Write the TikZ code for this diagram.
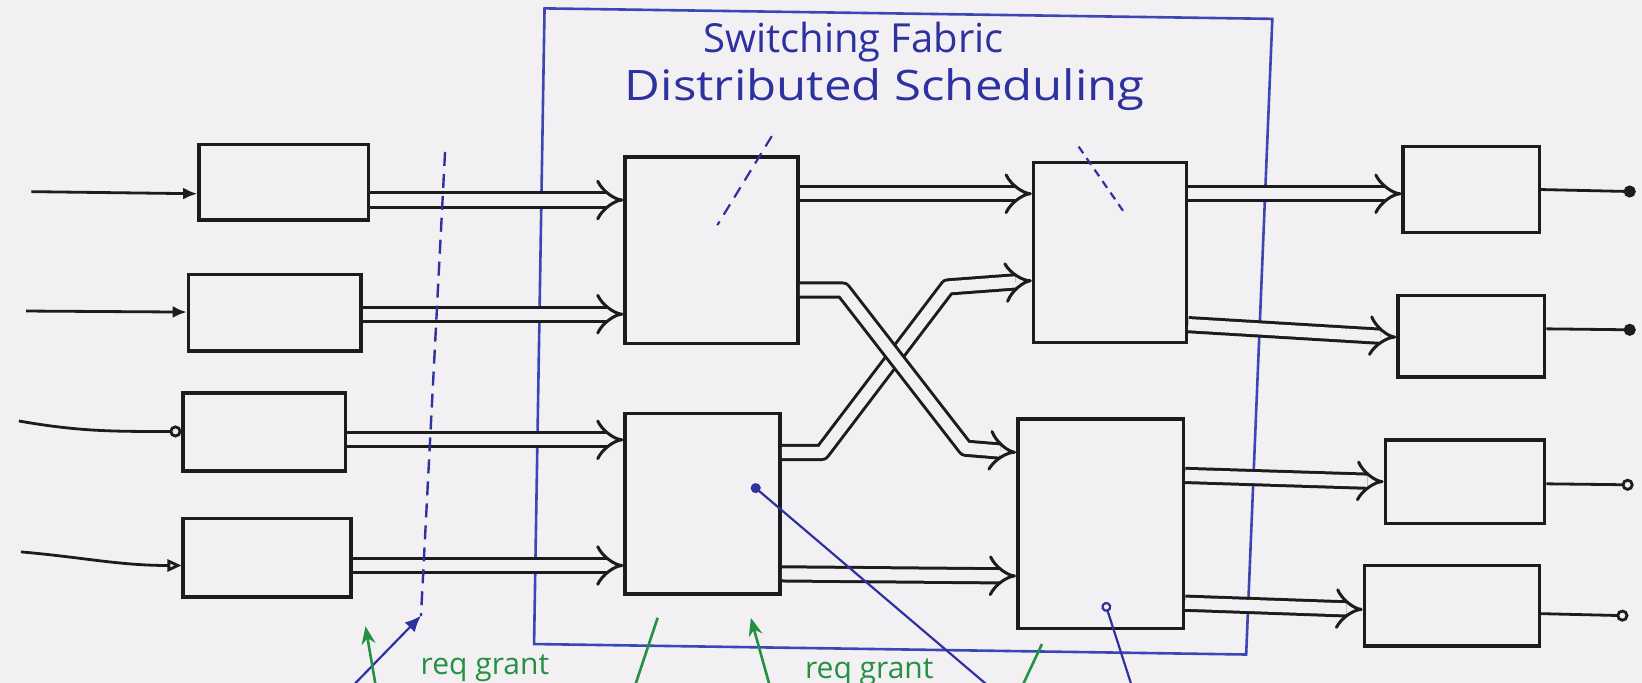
\documentclass[tikz,border=0pt]{standalone}
\usepackage{fontspec}
\setmainfont{Open Sans}
\usetikzlibrary{arrows.meta,fit,calc}
\definecolor{paper}{RGB}{243,240,243}
\definecolor{ink}{RGB}{28,28,28}
\definecolor{pen}{RGB}{45,50,160}
\definecolor{frame}{RGB}{60,70,180}
\definecolor{marker}{RGB}{35,145,65}
\def\pxu{0.5236pt}
\begin{document}
\begin{tikzpicture}[x=\pxu,y=-\pxu,
  blk/.style={draw=ink, line width=1.8pt, inner sep=0pt},
  feed/.style={draw=ink, line width=1.4pt},
  dbl/.style={draw=ink, line width=1.5pt, double=paper, double distance=5.6pt,
    line join=round, -{Implies}},
  fabric/.style={draw=frame, line width=1.3pt},
  note/.style={text=pen, font=\fontsize{20}{22}\selectfont},
  pointer/.style={draw=pen, line width=1.1pt, dash pattern=on 6pt off 4pt},
  probe/.style={draw=pen, line width=1.1pt},
  cue/.style={draw=marker, line width=1.3pt},
  cuetext/.style={text=marker, font=\fontsize{15}{17}\selectfont, anchor=north west}
]
\useasboundingbox (0,0) rectangle (1568,652);
\fill[paper] (0,0) rectangle (1568,652);
\clip (0,0) rectangle (1568,652);

% switching fabric frame
\draw[fabric] (520,8) -- (1215,18) -- (1190,625) -- (510,615) -- cycle;
\node[note] (t1) at (815,40) {Switching Fabric};
\node[note, font=\fontsize{21}{23}\selectfont, xscale=1.17] (t2) at (845,86) {Distributed Scheduling};

% input buffers
\node[blk, fit={(190,138) (352,210)}] (I1) {};
\node[blk, fit={(180,262) (345,335)}] (I2) {};
\node[blk, fit={(175,375) (330,450)}] (I3) {};
\node[blk, fit={(175,495) (335,570)}] (I4) {};
% switch elements
\node[blk, fit={(597,150) (762,328)}] (S1) {};
\node[blk, fit={(597,395) (745,567)}] (S2) {};
\node[blk, fit={(987,155) (1133,327)}] (S3) {};
\node[blk, fit={(972,400) (1130,600)}] (S4) {};
% output buffers
\node[blk, fit={(1340,140) (1470,222)}] (O1) {};
\node[blk, fit={(1335,282) (1475,360)}] (O2) {};
\node[blk, fit={(1323,420) (1475,500)}] (O3) {};
\node[blk, fit={(1303,540) (1470,617)}] (O4) {};

% incoming lines
\coordinate (in1) at (30,183);
\coordinate (in2) at (25,297);
\coordinate (in3) at (18,402);
\coordinate (in4) at (20,527);
\draw[feed, -{Latex[length=7pt,width=6pt]}] (in1) -- (I1.west |- 0,185);
\draw[feed, -{Latex[length=7pt,width=6pt]}] (in2) -- (I2.west |- 0,298);
\draw[feed, -{Circle[open,length=6pt]}] (in3) to[out=-10,in=180] (I3.west |- 0,412);
\draw[feed, -{Triangle[open,length=7pt,width=6pt]}] (in4) to[out=-5,in=180] (I4.west |- 0,540);

% outgoing lines
\coordinate (out1) at (1562,183);
\coordinate (out2) at (1562,315);
\coordinate (out3) at (1560,463);
\coordinate (out4) at (1555,588);
\draw[feed, -{Circle[length=6pt]}] (O1.east |- 0,181) -- (out1);
\draw[feed, -{Circle[length=6pt]}] (O2.east |- 0,314) -- (out2);
\draw[feed, -{Circle[open,length=6pt]}] (O3.east |- 0,462) -- (out3);
\draw[feed, -{Circle[open,length=6pt]}] (O4.east |- 0,586) -- (out4);

% cell paths through the fabric
\draw[dbl] (I1.east |- 0,191) -- (S1.west |- 0,191);
\draw[dbl] (I2.east |- 0,300) -- (S1.west |- 0,300);
\draw[dbl] (I3.east |- 0,420) -- (S2.west |- 0,420);
\draw[dbl] (I4.east |- 0,540) -- (S2.west |- 0,540);
\draw[dbl] (S1.east |- 0,185) -- (S3.west |- 0,185);
\draw[dbl] (S2.east |- 0,432) -- (785,432) -- (905,274) -- (S3.west |- 0,268);
\draw[dbl] (S1.east |- 0,277) -- (805,277) -- (922,428) -- (S4.west |- 0,432);
\draw[dbl] (S2.east |- 0,548) -- (S4.west |- 0,550);
\draw[dbl] (S3.east |- 0,185) -- (O1.west |- 0,185);
\draw[dbl] (S3.east |- 0,310) -- (O2.west |- 0,322);
\draw[dbl] (S4.east |- 0,454) -- (O3.west |- 0,460);
\draw[dbl] (S4.east |- 0,576) -- (O4.west |- 0,582);

% scheduler pointers
\coordinate (p1a) at (737,130);
\coordinate (p1b) at (685,215);
\coordinate (p2a) at (1030,140);
\coordinate (p2b) at (1075,205);
\draw[pointer] (p1a) -- (p1b);
\draw[pointer, dash pattern=on 4pt off 3pt] (p2a) -- (p2b);

% cut between input buffers and fabric
\coordinate (cuttop) at (425,145);
\coordinate (cut) at (402,588);
\coordinate (cutsrc) at (330,662);
\draw[pen, line width=1.2pt, dash pattern=on 7pt off 4pt] (cuttop) -- (cut);
\draw[probe, -{Latex[length=8pt,width=7pt]}] (cutsrc) -- (cut);

% probes into the switch elements
\coordinate (q1) at (718,463);
\coordinate (q1s) at (952,662);
\coordinate (q2) at (1055,575);
\coordinate (q2s) at (1083,662);
\draw[probe, {Circle[length=5pt]}-] (q1) -- (q1s);
\draw[probe, {Circle[open,length=5pt]}-] (q2) -- (q2s);

% request / grant marks
\coordinate (g1) at (349,598);
\coordinate (g1s) at (360,662);
\coordinate (g2) at (717,590);
\coordinate (g2s) at (737,662);
\draw[cue, -{Stealth[length=9pt,width=7pt]}] (g1s) -- (g1);
\draw[cue, -{Stealth[length=9pt,width=7pt]}] (g2s) -- (g2);
\coordinate (h1a) at (628,590);
\coordinate (h1b) at (604,662);
\coordinate (h2a) at (995,615);
\coordinate (h2b) at (973,662);
\draw[cue] (h1a) -- (h1b);
\draw[cue] (h2a) -- (h2b);
\node[cuetext] (r1) at (395,618) {req grant};
\node[cuetext] (r2) at (762,622) {req grant};
\end{tikzpicture}
\end{document}
